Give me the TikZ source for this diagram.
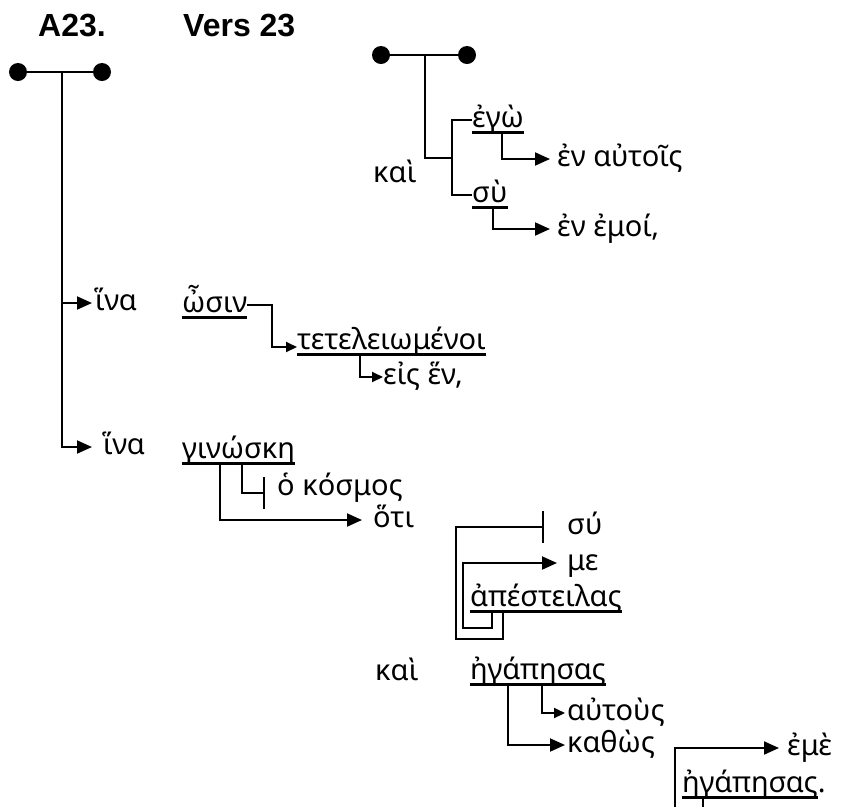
\documentclass[tikz,border=0pt]{standalone}
\usepackage{fontspec}
\setmainfont{Noto Sans}
\newfontfamily\headfont{Liberation Sans}
\usetikzlibrary{arrows.meta,calc}

\tikzset{
  wd/.style={inner sep=0pt, anchor=west, text height=20pt, text depth=5pt, font=\fontsize{29}{32}\selectfont},
  hd/.style={inner sep=0pt, anchor=base west, font=\headfont\bfseries\fontsize{32}{35}\selectfont},
  wire/.style={line width=2pt},
  arr/.style={wire, -{Triangle[length=15pt,width=13pt]}},
  sarr/.style={wire, -{Triangle[length=11pt,width=10pt]}},
  barend/.style={wire, -{Bar[width=32pt]}},
  uline/.style={line width=2.6pt},
  dot/.style={circle, fill, inner sep=0pt, minimum size=18pt}
}

\begin{document}
\begin{tikzpicture}[x=1pt,y=-1pt]
    \useasboundingbox (0,0) rectangle (844,807);

    \node[hd] (num) at (38,36) {A23.};
    \node[hd] (vers) at (183,36) {Vers 23};

    \node[dot] (ld1) at (18,72) {};
    \node[dot] (ld2) at (102,72) {};
    \coordinate (lroot) at (62,72);
    \node[dot] (rd1) at (381,55) {};
    \node[dot] (rd2) at (467,55) {};
    \coordinate (rroot) at (425,55);

    \node[wd] (ego) at (472,120) {ἐγὼ};
    \node[wd] (enautois) at (557,159) {ἐν αὐτοῖς};
    \node[wd] (kai1) at (373,175) {καὶ};
    \node[wd] (su1) at (472,195) {σὺ};
    \node[wd] (enemoi) at (557,229) {ἐν ἐμοί,};
    \node[wd] (hina1) at (95,303) {ἵνα};
    \node[wd] (osin) at (182,305) {ὦσιν};
    \node[wd] (tetel) at (297,342) {τετελειωμένοι};
    \node[wd] (eishen) at (383,377) {εἰς ἕν,};
    \node[wd] (hina2) at (103,447) {ἵνα};
    \node[wd] (ginoske) at (182,451) {γινώσκη};
    \node[wd] (kosmos) at (277,488) {ὁ κόσμος};
    \node[wd] (hoti) at (373,520) {ὅτι};
    \node[wd] (su2) at (567,527) {σύ};
    \node[wd] (me) at (567,563) {με};
    \node[wd] (apest) at (470,599) {ἀπέστειλας};
    \node[wd] (kai2) at (375,673) {καὶ};
    \node[wd] (egap1) at (470,672) {ἠγάπησας};
    \node[wd] (autous) at (567,713) {αὐτοὺς};
    \node[wd] (kathos) at (567,745) {καθὼς};
    \node[wd] (eme) at (787,748) {ἐμὲ};
    \node[wd] (egap2) at (682,785) {ἠγάπησας\rlap{.}};
    \coordinate (bot1) at (675,807);
    \coordinate (bot2) at (703,807);

    \draw[wire] (ld1) -- (ld2);
    \draw[wire] (rd1) -- (rd2);
    \draw[arr] (lroot) |- ([xshift=-3pt]hina1.west);
    \draw[arr] (lroot) |- ([xshift=-11pt]hina2.west);

    \draw[wire] (ego.west) -- ++(-20,0) |- (su1.west);
    \draw[wire] (rroot) |- ([xshift=-20pt]$(ego.west)!.5!(su1.west)$);
    \draw[arr] ([xshift=30pt]ego.south west) |- ([xshift=-7pt]enautois.west);
    \draw[arr] ([xshift=21pt]su1.south west) |- ([xshift=-7pt]enemoi.west);

    \draw[sarr] (osin.east) -- ++(25,0) |- ([yshift=-5pt]tetel.west);
    \draw[sarr] ([xshift=63pt]tetel.south west) |- (eishen.west);

    \draw[barend] ([xshift=60pt]ginoske.south west) |- ([xshift=-12pt,yshift=-5pt]kosmos.west);
    \draw[arr] ([xshift=38pt]ginoske.south west) |- ([xshift=-11pt]hoti.west);
    \draw[barend] ([xshift=33pt]apest.south west) -- ++(0,27) -- ++(-47,0) |- ([xshift=-23pt]su2.west);
    \draw[arr] ([xshift=22pt]apest.south west) -- ++(0,16) -- ++(-29,0) |- ([xshift=-10pt]me.west);

    \draw[sarr] ([xshift=72pt]egap1.south west) |- ([xshift=-2pt]autous.west);
    \draw[arr] ([xshift=38pt]egap1.south west) |- ([xshift=-2pt]kathos.west);
    \draw[arr] (bot1) |- ([xshift=-8pt]eme.west);
    \draw[wire] ([xshift=21pt]egap2.south west) -- (bot2);

    \foreach \w in {ego,su1,osin,tetel,ginoske,apest,egap1,egap2}
        \draw[uline] (\w.south west) -- (\w.south east);
\end{tikzpicture}
\end{document}
